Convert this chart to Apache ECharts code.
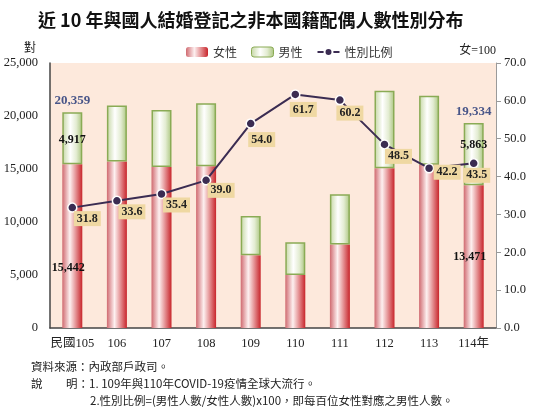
<!DOCTYPE html>
<html>
<head>
<meta charset="utf-8">
<script src="https://cdn.jsdelivr.net/npm/echarts@6/dist/echarts.min.js"></script>
<style>
  html, body { margin: 0; padding: 0; background: #fff; }
  #main { width: 551px; height: 417px; }
</style>
</head>
<body>
<div id="main"></div>
<script>
// 年度（民國）
var years = ['民國105', '106', '107', '108', '109', '110', '111', '112', '113', '114年'];
// 女性人數
var female = [15442, 15700, 15190, 15250, 6860, 5000, 7870, 15080, 15400, 13471];
// 男性人數
var male = [4917, 5280, 5380, 5950, 3700, 3085, 4740, 7310, 6500, 5863];
// 性別比例 (女=100)
var ratio = [31.8, 33.6, 35.4, 39.0, 54.0, 61.7, 60.2, 48.5, 42.2, 43.5];
// 只在首末兩年標示數值
var labeled = [0, 9];

var serif = "'Liberation Serif', 'Noto Sans CJK TC', serif";
var cjk = "'Noto Sans CJK TC', 'Liberation Serif', serif";

function grad(stops) {
  return {
    type: 'linear', x: 0, y: 0, x2: 1, y2: 0,
    colorStops: stops.map(function (s) { return { offset: s[0], color: s[1] }; })
  };
}
var redFill = grad([[0, '#d06a70'], [0.38, '#fdf0f0'], [0.62, '#e9a3a5'], [1, '#c8252b']]);
var greenFill = grad([[0, '#c4d6a2'], [0.4, '#ffffff'], [0.7, '#e3ecd2'], [1, '#a9c47c']]);

function fmt(v) { return v.toLocaleString('en-US'); }

var total = female.map(function (f, i) { return f + male[i]; });

// 比例標籤相對於點的位移
var ratioOffset = [[15, 11], [15, 11], [15, 11], [15, 10], [11, 16], [8, 15], [10, 13], [14, 12], [18, 4], [3, 12]];

var chartDom = document.getElementById('main');
var chart = echarts.init(chartDom);

var option = {
  backgroundColor: '#ffffff',
  animation: false,
  title: {
    text: '近 10 年與國人結婚登記之非本國籍配偶人數性別分布',
    left: 33,
    top: 6,
    textStyle: { fontFamily: cjk, fontWeight: 'bold', fontSize: 18, color: '#111' }
  },
  legend: {
    top: 41,
    left: 181,
    itemWidth: 22,
    itemHeight: 10,
    itemGap: 14,
    textStyle: { fontFamily: cjk, fontSize: 12, color: '#333' },
    data: [
      { name: '女性', itemStyle: { color: redFill } },
      { name: '男性', itemStyle: { color: greenFill, borderColor: '#8aab55', borderWidth: 1 } },
      { name: '性別比例' }
    ]
  },
  grid: {
    left: 50,
    right: 55,
    top: 63,
    bottom: 89,
    show: true,
    backgroundColor: '#fde9dc',
    borderWidth: 0
  },
  xAxis: {
    type: 'category',
    data: years,
    axisLine: { lineStyle: { color: '#444', width: 1.5 } },
    axisTick: { show: false },
    axisLabel: { interval: 0, fontFamily: serif, fontSize: 12.5, color: '#222', margin: 9 }
  },
  yAxis: [{
    type: 'value',
    min: 0,
    max: 25000,
    interval: 5000,
    name: '對',
    nameGap: 10,
    nameTextStyle: { fontFamily: cjk, fontSize: 12, color: '#222', align: 'right', padding: [0, 14, 0, 0] },
    axisLine: { show: true, lineStyle: { color: '#444', width: 1.5 } },
    axisTick: { show: false },
    splitLine: { show: false },
    axisLabel: { fontFamily: serif, fontSize: 12.5, color: '#222', margin: 12, formatter: fmt }
  }, {
    type: 'value',
    min: 0,
    max: 70,
    interval: 10,
    name: '女=100',
    nameGap: 6,
    nameTextStyle: { fontFamily: serif, fontSize: 12, color: '#222', align: 'right', padding: [0, 0, 0, 0] },
    axisLine: { show: true, lineStyle: { color: '#9a9a9a', width: 1 } },
    axisTick: { show: true, length: 5, lineStyle: { color: '#9a9a9a' } },
    splitLine: { show: false },
    axisLabel: { fontFamily: serif, fontSize: 12.5, color: '#222', margin: 8, formatter: function (v) { return v.toFixed(1); } }
  }],
  series: [{
    name: '女性',
    type: 'bar',
    stack: 'total',
    barWidth: 20,
    itemStyle: { color: redFill },
    data: female.map(function (v, i) {
      var item = { value: v };
      if (labeled.indexOf(i) >= 0) {
        item.label = {
          show: true,
          position: i === 0 ? 'insideBottom' : 'inside',
          distance: 54,
          offset: [-4, 0],
          formatter: fmt(v),
          fontFamily: serif, fontWeight: 'bold', fontSize: 12, color: '#111'
        };
      }
      return item;
    })
  }, {
    name: '男性',
    type: 'bar',
    stack: 'total',
    barWidth: 20,
    itemStyle: { color: greenFill, borderColor: '#8aab55', borderWidth: 1.5 },
    data: male.map(function (v, i) {
      var item = { value: v };
      if (labeled.indexOf(i) >= 0) {
        item.label = {
          show: true,
          position: 'inside',
          offset: [0, i === 0 ? 2 : -9],
          formatter: fmt(v),
          fontFamily: serif, fontWeight: 'bold', fontSize: 12, color: '#111'
        };
      }
      return item;
    })
  }, {
    name: '合計',
    type: 'scatter',
    symbolSize: 0,
    silent: true,
    data: total.map(function (v, i) {
      var item = { value: v };
      if (labeled.indexOf(i) >= 0) {
        item.label = {
          show: true,
          position: 'top',
          distance: 5,
          formatter: fmt(v),
          fontFamily: serif, fontWeight: 'bold', fontSize: 13, color: '#1a2f73'
        };
      }
      return item;
    })
  }, {
    name: '性別比例',
    type: 'line',
    yAxisIndex: 1,
    symbol: 'circle',
    symbolSize: 9,
    z: 5,
    lineStyle: { color: '#3b2c52', width: 2 },
    itemStyle: { color: '#3b2c52', borderColor: '#ffffff', borderWidth: 1.5 },
    data: ratio.map(function (v, i) {
      return {
        value: v,
        label: {
          show: true,
          position: 'inside',
          offset: ratioOffset[i],
          formatter: v.toFixed(1),
          backgroundColor: '#efd8a2',
          padding: [2, 3, 1, 3],
          fontFamily: serif, fontWeight: 'bold', fontSize: 12, color: '#222'
        }
      };
    })
  }],
  graphic: [
    { type: 'text', left: 31, top: 361, style: { text: '資料來源：內政部戶政司。', fontFamily: cjk, fontSize: 11.5, fill: '#222' } },
    { type: 'text', left: 31, top: 378, style: { text: '說', fontFamily: cjk, fontSize: 11.5, fill: '#222' } },
    { type: 'text', left: 66, top: 378, style: { text: '明：1. 109年與110年COVID-19疫情全球大流行。', fontFamily: cjk, fontSize: 11.5, fill: '#222' } },
    { type: 'text', left: 90, top: 395, style: { text: '2.性別比例=(男性人數/女性人數)x100，即每百位女性對應之男性人數。', fontFamily: cjk, fontSize: 11.5, fill: '#222' } }
  ]
};

chart.setOption(option);
</script>
</body>
</html>
